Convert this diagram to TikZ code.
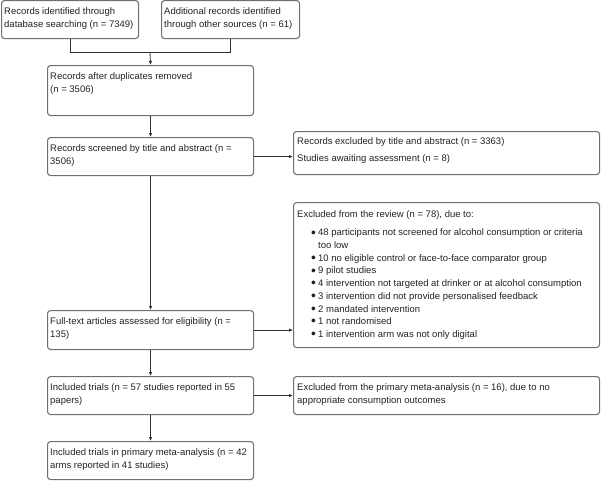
\documentclass[tikz,border=0pt]{standalone}
\usepackage{fontspec}
\setmainfont{Liberation Sans}
\usetikzlibrary{arrows.meta}
\definecolor{boxline}{HTML}{707070}
\definecolor{txtc}{HTML}{222222}
\definecolor{connc}{HTML}{303030}
\newcommand{\bulitem}{\makebox[7pt][l]{\raisebox{-0.13em}{\scalebox{1.45}{•}}}}
\begin{document}
\begin{tikzpicture}[x=1pt,y=-1pt,
  box/.style={draw=boxline, line width=1.1pt, rounded corners=3pt, inner sep=0pt, anchor=north west},
  txt/.style={text=txtc, inner sep=0pt, anchor=base west, font=\fontsize{9.5pt}{13pt}\selectfont},
  conn/.style={draw=connc, line width=0.8pt},
  arr/.style={-{Latex[length=4pt,width=3.5pt]}}]
\useasboundingbox (0,0) rectangle (602,480);
% boxes
\node[box, minimum width=137pt, minimum height=38pt] (b1) at (1,0) {};
\node[box, minimum width=138pt, minimum height=38pt] (b2) at (161,0) {};
\node[box, minimum width=206pt, minimum height=50pt] (b3) at (47,65) {};
\node[box, minimum width=206pt, minimum height=38pt] (b4) at (47,137) {};
\node[box, minimum width=306pt, minimum height=43pt] (b5) at (293,131) {};
\node[box, minimum width=306pt, minimum height=145pt] (b6) at (293,202) {};
\node[box, minimum width=206pt, minimum height=39pt] (b7) at (47,310) {};
\node[box, minimum width=206pt, minimum height=38pt] (b8) at (47,376) {};
\node[box, minimum width=306pt, minimum height=38pt] (b9) at (293,376) {};
\node[box, minimum width=206pt, minimum height=38pt] (b10) at (47,441) {};
% texts
\node[txt] (t1) at ([shift={(3,14)}]b1.north west) {\parbox[t]{300pt}{Records identified through\\database searching (n = 7349)}};
\node[txt] (t2) at ([shift={(3,14)}]b2.north west) {\parbox[t]{300pt}{Additional records identified\\through other sources (n = 61)}};
\node[txt] (t3) at ([shift={(3,14.5)}]b3.north west) {\parbox[t]{300pt}{Records after duplicates removed\\(n = 3506)}};
\node[txt] (t4) at ([shift={(3,14)}]b4.north west) {\parbox[t]{300pt}{Records screened by title and abstract (n =\\3506)}};
\node[txt] (t5) at ([shift={(4,13)}]b5.north west) {\parbox[t]{300pt}{Records excluded by title and abstract (n = 3363)\\[4pt]Studies awaiting assessment (n = 8)}};
\node[txt] (t6) at ([shift={(4,15)}]b6.north west) {Excluded from the review (n = 78), due to:};
\node[txt, font=\fontsize{9.5pt}{12.7pt}\selectfont] (t6b) at ([shift={(18,33.8)}]b6.north west) {\parbox[t]{290pt}{%
\bulitem 48 participants not screened for alcohol consumption or criteria\\
\hspace*{7pt}too low\\
\bulitem 10 no eligible control or face-to-face comparator group\\
\bulitem 9 pilot studies\\
\bulitem 4 intervention not targeted at drinker or at alcohol consumption\\
\bulitem 3 intervention did not provide personalised feedback\\
\bulitem 2 mandated intervention\\
\bulitem 1 not randomised\\
\bulitem 1 intervention arm was not only digital}};
\node[txt] (t7) at ([shift={(3,14)}]b7.north west) {\parbox[t]{300pt}{Full-text articles assessed for eligibility (n =\\135)}};
\node[txt] (t8) at ([shift={(3,14)}]b8.north west) {\parbox[t]{300pt}{Included trials (n = 57 studies reported in 55\\papers)}};
\node[txt] (t9) at ([shift={(4,14)}]b9.north west) {\parbox[t]{300pt}{Excluded from the primary meta-analysis (n = 16), due to no\\appropriate consumption outcomes}};
\node[txt] (t10) at ([shift={(3,14)}]b10.north west) {\parbox[t]{300pt}{Included trials in primary meta-analysis (n = 42\\arms reported in 41 studies)}};
% connectors
\coordinate (m) at (150,52);
\draw[conn] (b1.south) |- (m);
\draw[conn] (b2.south) |- (m);
\draw[conn,arr] (m) -- (b3.north);
\draw[conn,arr] (b3.south) -- (b4.north);
\draw[conn,arr] (b4.east) -- (b4.east -| b5.west);
\draw[conn,arr] (b4.south) -- (b7.north);
\draw[conn,arr] (b7.east) -- (b7.east -| b6.west);
\draw[conn,arr] (b7.south) -- (b8.north);
\draw[conn,arr] (b8.east) -- (b8.east -| b9.west);
\draw[conn,arr] (b8.south) -- (b10.north);
\end{tikzpicture}
\end{document}
